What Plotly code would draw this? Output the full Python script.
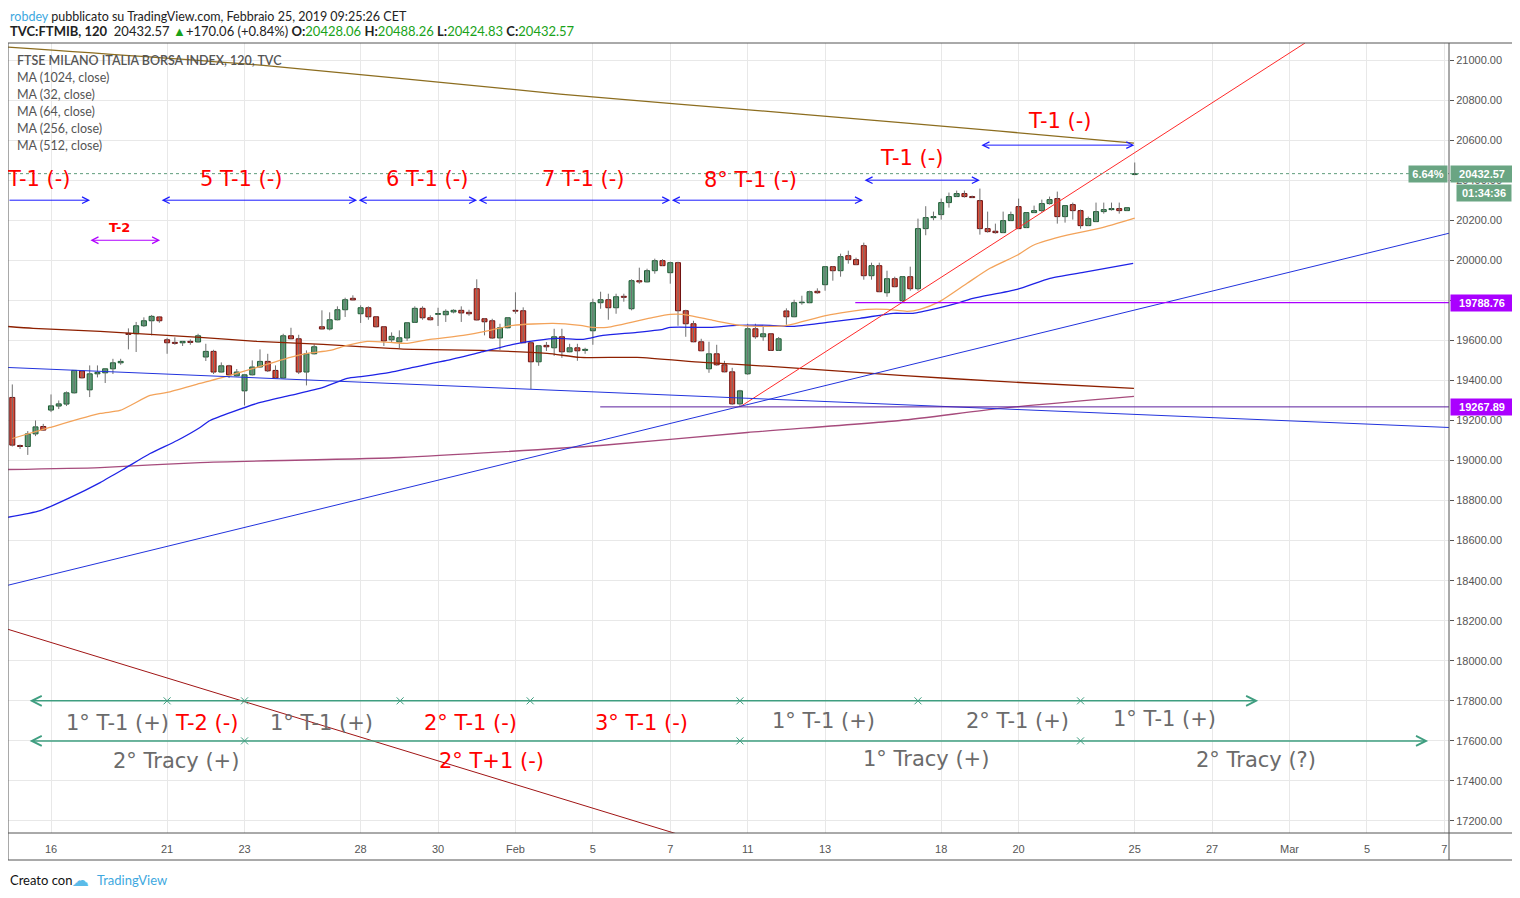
import plotly.graph_objects as go

# 120-minute bars of TVC:FTMIB, 5 per session, first bar = 15 Jan 2019
opens = [19315, 19075, 19070, 19133, 19170, 19252, 19272, 19282, 19338, 19447,
         19353, 19433, 19438, 19458, 19488, 19635, 19633, 19673, 19698, 19717,
         19603, 19590, 19588, 19595, 19592, 19517, 19545, 19442, 19473, 19423,
         19348, 19428, 19467, 19495, 19450, 19412, 19623, 19608, 19442, 19533,
         19668, 19657, 19703, 19753, 19810, 19733, 19763, 19718, 19668, 19603,
         19592, 19612, 19690, 19760, 19713, 19730, 19728, 19742, 19750, 19740,
         19858, 19708, 19698, 19612, 19663, 19750, 19748, 19588, 19493, 19575,
         19563, 19618, 19543, 19563, 19550, 19648, 19788, 19803, 19763, 19820,
         19758, 19898, 19892, 19948, 19998, 19938, 19988, 19748, 19683, 19593,
         19458, 19533, 19478, 19443, 19283, 19433, 19658, 19618, 19633, 19550,
         19747, 19718, 19788, 19788, 19845, 19878, 19968, 19948, 20023, 20003,
         20073, 19923, 19973, 19838, 19908, 19798, 19918, 19858, 20158, 20213,
         20228, 20288, 20318, 20333, 20318, 20298, 20158, 20145, 20138, 20198,
         20268, 20163, 20238, 20248, 20283, 20308, 20218, 20278, 20248, 20173,
         20193, 20243, 20253, 20258, 20248, 20428.06]
highs = [19380, 19080, 19147, 19200, 19183, 19330, 19300, 19345, 19452, 19452,
         19475, 19475, 19460, 19508, 19508, 19660, 19692, 19715, 19727, 19720,
         19613, 19615, 19597, 19605, 19633, 19583, 19553, 19490, 19478, 19457,
         19430, 19500, 19555, 19533, 19475, 19633, 19663, 19628, 19550, 19580,
         19750, 19740, 19770, 19813, 19825, 19775, 19770, 19720, 19670, 19640,
         19650, 19690, 19770, 19770, 19725, 19763, 19755, 19755, 19770, 19753,
         19905, 19710, 19708, 19683, 19715, 19840, 19765, 19590, 19575, 19592,
         19658, 19658, 19583, 19583, 19563, 19808, 19843, 19833, 19833, 19833,
         19905, 19963, 19958, 20008, 20005, 19993, 19993, 19753, 19698, 19608,
         19593, 19578, 19498, 19463, 19353, 19683, 19683, 19673, 19635, 19617,
         19760, 19803, 19823, 19848, 19860, 19970, 19970, 20033, 20048, 20013,
         20088, 19988, 19988, 19948, 19918, 19918, 19968, 20208, 20270, 20243,
         20308, 20338, 20348, 20348, 20323, 20358, 20243, 20183, 20243, 20243,
         20308, 20238, 20273, 20303, 20318, 20343, 20273, 20288, 20253, 20218,
         20288, 20288, 20288, 20288, 20263, 20488.26]
lows = [19070, 19058, 19028, 19122, 19150, 19242, 19257, 19272, 19335, 19410,
        19317, 19415, 19387, 19432, 19478, 19555, 19542, 19667, 19625, 19688,
        19533, 19578, 19572, 19578, 19590, 19497, 19432, 19440, 19412, 19420,
        19275, 19425, 19465, 19442, 19410, 19410, 19606, 19432, 19375, 19530,
        19655, 19650, 19700, 19717, 19800, 19687, 19703, 19665, 19572, 19592,
        19562, 19598, 19688, 19703, 19700, 19672, 19692, 19735, 19692, 19723,
        19700, 19625, 19607, 19553, 19660, 19733, 19586, 19357, 19473, 19547,
        19523, 19513, 19541, 19498, 19533, 19578, 19758, 19703, 19733, 19793,
        19750, 19883, 19890, 19933, 19972, 19883, 19673, 19618, 19591, 19546,
        19438, 19473, 19441, 19278, 19267.89, 19428, 19608, 19598, 19548, 19548,
        19678, 19716, 19778, 19786, 19833, 19848, 19898, 19918, 19983, 19976,
        19903, 19903, 19841, 19818, 19866, 19788.76, 19848, 19848, 20125, 20200,
        20203, 20263, 20316, 20313, 20311, 20128, 20138, 20133, 20136, 20196,
        20156, 20161, 20236, 20238, 20278, 20183, 20188, 20203, 20158, 20171,
        20191, 20233, 20248, 20233, 20246, 20424.83]
closes = [19077, 19070, 19133, 19168, 19152, 19273, 19283, 19338, 19450, 19413,
          19433, 19440, 19458, 19488, 19495, 19630, 19673, 19698, 19720, 19698,
          19588, 19585, 19595, 19590, 19623, 19545, 19442, 19473, 19428, 19442,
          19428, 19467, 19495, 19448, 19412, 19623, 19608, 19442, 19533, 19568,
          19657, 19703, 19753, 19803, 19802, 19763, 19718, 19668, 19597, 19620,
          19613, 19688, 19760, 19713, 19703, 19734, 19745, 19750, 19737, 19733,
          19702, 19693, 19612, 19663, 19713, 19746, 19588, 19493, 19573, 19568,
          19618, 19543, 19563, 19548, 19555, 19788, 19803, 19763, 19818, 19815,
          19898, 19892, 19948, 19998, 19973, 19988, 19748, 19683, 19593, 19548,
          19533, 19478, 19443, 19283, 19348, 19658, 19618, 19633, 19550, 19608,
          19718, 19788, 19791, 19843, 19838, 19968, 19948, 20018, 20003, 19978,
          19923, 19973, 19843, 19908, 19868, 19918, 19858, 20158, 20213, 20218,
          20288, 20318, 20333, 20318, 20313, 20158, 20143, 20138, 20198, 20228,
          20158, 20238, 20248, 20283, 20303, 20218, 20273, 20248, 20173, 20208,
          20243, 20253, 20258, 20248, 20262.51, 20432.57]
BARS_PER_SESSION = 5

# x axis: session index (weekends skipped)
tick_pos = [1, 4, 6, 9, 11, 13, 15, 17, 19, 21, 24, 26, 29, 31, 33, 35, 37]
tick_text = ["16", "21", "23", "28", "30", "Feb", "5", "7", "11", "13", "18", "20",
             "25", "27", "Mar", "5", "7"]

# moving averages (session index, price)
ma1024_x = [-0.16, 6.69, 14.15, 20.35, 25.52, 28.98]
ma1024_y = [21065, 20970, 20830, 20730, 20645, 20585]
ma32_x = [0.0, 0.97, 2.27, 2.78, 3.56, 4.0, 4.85, 5.44, 6.32, 7.18, 7.62, 8.21, 8.65, 9.17,
          9.76, 10.2, 10.79, 11.65, 12.34, 12.94, 13.97, 14.67, 15.0, 15.37, 16.56, 17.0,
          17.33, 18.1, 18.8, 19.58, 20.02, 21.05, 22.09, 22.6, 23.12, 23.45, 23.97, 24.67,
          25.26, 25.96, 26.38, 27.25, 28.11, 29.0]
ma32_y = [19110, 19165, 19235, 19250, 19325, 19340, 19385, 19415, 19465, 19515, 19535, 19550,
          19575, 19595, 19590, 19585, 19605, 19625, 19650, 19675, 19685, 19675, 19665, 19665,
          19715, 19730, 19730, 19700, 19675, 19670, 19675, 19725, 19755, 19755, 19745, 19755,
          19795, 19885, 19960, 20025, 20075, 20125, 20160, 20210]
ma64_x = [-0.16, 0.72, 1.49, 2.27, 2.86, 3.56, 4.26, 4.85, 5.11, 6.32, 7.18, 8.03, 8.65, 9.06,
          9.76, 10.35, 11.23, 12.09, 12.94, 13.56, 14.08, 14.75, 15.26, 16.14, 16.81, 17.0,
          18.03, 18.72, 19.58, 20.17, 21.05, 21.9, 22.76, 23.27, 23.89, 24.49, 24.82, 25.96,
          26.81, 27.67, 28.96]
ma64_y = [18715, 18750, 18815, 18890, 18955, 19035, 19100, 19165, 19200, 19285, 19325, 19365,
          19410, 19420, 19440, 19465, 19500, 19540, 19580, 19600, 19610, 19605, 19625, 19640,
          19655, 19665, 19665, 19675, 19675, 19670, 19690, 19710, 19735, 19735, 19760, 19790,
          19810, 19855, 19910, 19940, 19985]
ma256_x = [-0.16, 0.54, 2.27, 3.56, 4.85, 6.32, 8.03, 9.76, 10.35, 12.09, 13.82, 14.67, 16.14,
           17.85, 19.58, 22.94, 25.52, 28.98]
ma256_y = [19670, 19660, 19645, 19630, 19615, 19595, 19580, 19560, 19555, 19550, 19535, 19515,
           19515, 19490, 19470, 19425, 19395, 19360]
ma512_x = [-0.16, 2.27, 4.85, 10.02, 15.19, 18.99, 22.94, 25.52, 28.98]
ma512_y = [18955, 18965, 18990, 19015, 19075, 19140, 19200, 19260, 19320]

# drawn trend lines: (x0, y0, x1, y1)
red_trend = [18.8, 19267.89, 33.4, 21085]
blue_up_trend = [-0.16, 18375, 37.12, 20135]
blue_down_trend = [-0.16, 19465, 37.12, 19165]
darkred_trend = [-0.16, 18160, 17.18, 17135]
level_hi = [21.78, 19788.76]
level_lo = [15.19, 19267.89]
last_price = 20432.57

# arrows (start, end, price)
blue_arrows = [(3.82, 8.91, 20300), (8.91, 12.01, 20300), (12.01, 17.0, 20300),
               (17.0, 21.98, 20300), (21.98, 25.0, 20400), (25.0, 28.99, 20575)]
green_row1 = [0.41, 4.0, 6.0, 10.02, 13.38, 18.8, 23.4, 27.6, 32.19]
green_row2 = [0.41, 6.0, 18.8, 27.6, 36.58]

# text labels (text, x, price, colour)
red_top = [("5 T-1 (-)", 5.91, 20405), ("6 T-1 (-)", 10.72, 20405), ("7 T-1 (-)", 14.75, 20405),
           ("8° T-1 (-)", 19.06, 20400), ("T-1 (-)", 23.22, 20510), ("T-1 (-)", 27.05, 20695)]
bottom_labels = [("1° T-1 (+)", 2.73, 17690, "#6b6b6b"), ("T-2 (-)", 5.03, 17690, "#ff0000"),
                 ("1° T-1 (+)", 7.98, 17690, "#6b6b6b"), ("2° T-1 (-)", 11.85, 17690, "#ff0000"),
                 ("3° T-1 (-)", 16.25, 17690, "#ff0000"), ("1° T-1 (+)", 20.97, 17700, "#6b6b6b"),
                 ("2° T-1 (+)", 25.96, 17700, "#6b6b6b"), ("1° T-1 (+)", 29.76, 17710, "#6b6b6b"),
                 ("2° Tracy (+)", 4.23, 17500, "#6b6b6b"), ("2° T+1 (-)", 12.37, 17500, "#ff0000"),
                 ("1° Tracy (+)", 23.61, 17510, "#6b6b6b"), ("2° Tracy (?)", 32.14, 17505, "#6b6b6b")]
legend_lines = ["FTSE MILANO ITALIA BORSA INDEX, 120, TVC", "MA (1024, close)", "MA (32, close)",
                "MA (64, close)", "MA (256, close)", "MA (512, close)"]

X_RANGE = [-0.111, 37.12]
Y_RANGE = [17140, 21085]
UP_FILL, UP_LINE = "#5e9f79", "#1d5a33"
DN_FILL, DN_LINE = "#d94c38", "#6e1010"
GREEN_TOOL = "#3f9e80"
DRAW_FONT = "DejaVu Sans"

# the page sits 8px in from the window corner; plot pane is 1441 x 790 px
PANE_W, PANE_H = 1441, 790


def px(x):
    return (x - 8) / PANE_W


def py(y):
    return (833 - y) / PANE_H


bar_x = [i // BARS_PER_SESSION + (i % BARS_PER_SESSION) / BARS_PER_SESSION for i in range(len(opens))]

fig = go.Figure()

# wicks
wx, wy = [], []
for x, h, l in zip(bar_x, highs, lows):
    wx += [x, x, None]
    wy += [l, h, None]
fig.add_trace(go.Scatter(x=wx, y=wy, mode="lines", line=dict(color="#707070", width=1), hoverinfo="skip"))

# bodies
up = [i for i in range(len(opens)) if closes[i] >= opens[i]]
dn = [i for i in range(len(opens)) if closes[i] < opens[i]]
for idx, fill, edge in [(up, UP_FILL, UP_LINE), (dn, DN_FILL, DN_LINE)]:
    fig.add_trace(go.Bar(
        x=[bar_x[i] for i in idx],
        y=[abs(closes[i] - opens[i]) for i in idx],
        base=[min(opens[i], closes[i]) for i in idx],
        width=0.13,
        marker=dict(color=fill, line=dict(color=edge, width=1)),
    ))

# moving averages
for xs, ys, col in [(ma512_x, ma512_y, "#a64b7c"), (ma256_x, ma256_y, "#8e2000"),
                    (ma1024_x, ma1024_y, "#8c6d1f"), (ma64_x, ma64_y, "#1e22e6"),
                    (ma32_x, ma32_y, "#f3a35a")]:
    fig.add_trace(go.Scatter(x=xs, y=ys, mode="lines", line=dict(color=col, width=1.3, shape="spline", smoothing=0.6)))

# trend lines and levels
for seg, col in [(red_trend, "#ff2a2a"), (blue_up_trend, "#2233dd"),
                 (blue_down_trend, "#2233dd"), (darkred_trend, "#a01515")]:
    fig.add_trace(go.Scatter(x=[seg[0], seg[2]], y=[seg[1], seg[3]], mode="lines", line=dict(color=col, width=1)))
fig.add_trace(go.Scatter(x=[level_hi[0], X_RANGE[1]], y=[level_hi[1]] * 2, mode="lines",
                         line=dict(color="#aa00ff", width=1.2)))
fig.add_trace(go.Scatter(x=[level_lo[0], X_RANGE[1]], y=[level_lo[1]] * 2, mode="lines",
                         line=dict(color="#5a1f9e", width=1)))
fig.add_trace(go.Scatter(x=X_RANGE, y=[last_price] * 2, mode="lines",
                         line=dict(color="#5f9c7c", width=1, dash="dot")))

# junction markers on the green time-count rows
for row, price in [(green_row1, 17800), (green_row2, 17600)]:
    fig.add_trace(go.Scatter(x=row[1:-1], y=[price] * (len(row) - 2), mode="markers",
                             marker=dict(symbol="x-thin", size=7, line=dict(color=GREEN_TOOL, width=1))))

ann = []


def arrow(x0, x1, y, color, both=True, width=1):
    ann.append(dict(x=x1, y=y, ax=x0, ay=y, xref="x", yref="y", axref="x", ayref="y", text="",
                    showarrow=True, arrowhead=5, startarrowhead=5, arrowsize=1.3, startarrowsize=1.3,
                    arrowwidth=width, arrowcolor=color, arrowside="end+start" if both else "end",
                    standoff=0, startstandoff=0))


arrow(X_RANGE[0], 2.01, 20300, "#1a1aff", both=False)
for a, b, p in blue_arrows:
    arrow(a, b, p, "#1a1aff")
arrow(1.98, 3.82, 20100, "#b000ff")
arrow(green_row1[0], green_row1[-1], 17800, GREEN_TOOL, width=1.5)
arrow(green_row2[0], green_row2[-1], 17600, GREEN_TOOL, width=1.5)

ann.append(dict(x=X_RANGE[0], y=20405, xref="x", yref="y", xanchor="left", xshift=-3, text="T-1 (-)",
                showarrow=False, font=dict(family=DRAW_FONT, size=21, color="#ff0000")))
for t, x, y in red_top:
    ann.append(dict(x=x, y=y, xref="x", yref="y", text=t, showarrow=False,
                    font=dict(family=DRAW_FONT, size=21, color="#ff0000")))
ann.append(dict(x=2.76, y=20165, xref="x", yref="y", text="<b>T-2</b>", showarrow=False,
                font=dict(family=DRAW_FONT, size=13, color="#ff0000")))
for t, x, y, c in bottom_labels:
    ann.append(dict(x=x, y=y, xref="x", yref="y", text=t, showarrow=False,
                    font=dict(family=DRAW_FONT, size=21, color=c)))

# legend block inside the pane
for k, t in enumerate(legend_lines):
    ann.append(dict(x=px(15), y=py(60 + 17 * k), xref="paper", yref="paper", xanchor="left",
                    yanchor="middle", text=t, showarrow=False,
                    font=dict(family="Lato", size=12.5, color="#555555", weight=600 if k == 0 else 400)))

# header lines
ann.append(dict(x=0, y=py(16), xref="paper", yref="paper", xanchor="left", yanchor="middle",
                showarrow=False, font=dict(family="Lato", size=12.5, color="#222222"),
                text="<span style='color:#3ea8e0'>robdey</span> pubblicato su TradingView.com, Febbraio 25, 2019 09:25:26 CET"))
g = "#19a219"
ann.append(dict(x=0, y=py(31), xref="paper", yref="paper", xanchor="left", yanchor="middle",
                showarrow=False, font=dict(family="Lato", size=13, color="#222222"),
                text=f"<b>TVC:FTMIB, 120</b>  20432.57 <span style='color:{g}'>▲</span>+170.06 (+0.84%) "
                     f"<b>O:</b><span style='color:{g}'>20428.06</span> <b>H:</b><span style='color:{g}'>20488.26</span> "
                     f"<b>L:</b><span style='color:{g}'>20424.83</span> <b>C:</b><span style='color:{g}'>20432.57</span>"))
ann.append(dict(x=0, y=py(880), xref="paper", yref="paper", xanchor="left", yanchor="middle",
                showarrow=False, font=dict(family="Lato", size=13, color="#111111"),
                text="Creato con"))
ann.append(dict(x=px(70), y=py(880), xref="paper", yref="paper", xanchor="left", yanchor="middle",
                showarrow=False, font=dict(family="DejaVu Sans", size=17, color="#5bbbe8"),
                text="☁"))
ann.append(dict(x=px(95), y=py(880), xref="paper", yref="paper", xanchor="left",
                yanchor="middle", showarrow=False, font=dict(family="Lato", size=13, color="#3ea8e0"),
                text="TradingView"))

# price-scale labels
lab_font = dict(family="Liberation Sans", size=11, color="white", weight="bold")
for txt, y, col, ysh in [(f"{last_price:.2f}", last_price, "#6aa583", 0),
                         ("01:34:36", last_price, "#6aa583", -19),
                         (f"{level_hi[1]:.2f}", level_hi[1], "#aa00ff", 0),
                         (f"{level_lo[1]:.2f}", level_lo[1], "#aa00ff", 0)]:
    ann.append(dict(x=1, y=y, xref="paper", yref="y", xanchor="left", yanchor="middle", xshift=7 if ysh else 1,
                    yshift=ysh, text=txt, showarrow=False, bgcolor=col, font=lab_font,
                    width=52 if ysh else 60, height=14, borderpad=1))
ann.append(dict(x=1, y=last_price, xref="paper", yref="y", xanchor="right", yanchor="middle", xshift=-1,
                text="6.64%", showarrow=False, bgcolor="#6aa583", font=lab_font, width=36, height=14,
                borderpad=1))

frame_bottom = py(860)
frame_right = px(1513)
shapes = [
    dict(type="rect", xref="paper", yref="paper", x0=0, x1=frame_right, y0=frame_bottom, y1=1,
         line=dict(color="#555555", width=1), layer="above"),
    dict(type="line", xref="paper", yref="paper", x0=1, x1=1, y0=frame_bottom, y1=1,
         line=dict(color="#555555", width=1)),
    dict(type="line", xref="paper", yref="paper", x0=0, x1=frame_right, y0=0, y1=0,
         line=dict(color="#555555", width=1)),
]

fig.update_layout(
    width=1512, height=890,
    margin=dict(l=0, r=71, t=35, b=65),
    paper_bgcolor="white", plot_bgcolor="white",
    showlegend=False, barmode="overlay",
    annotations=ann, shapes=shapes,
    xaxis=dict(range=X_RANGE, tickvals=tick_pos, ticktext=tick_text, showgrid=True, gridcolor="#e8e8e8",
               zeroline=False, ticks="outside", ticklen=6, tickcolor="rgba(0,0,0,0)",
               tickfont=dict(family="Liberation Sans", size=11, color="#555555")),
    yaxis=dict(side="right", range=Y_RANGE, tick0=17200, dtick=200, tickformat=".2f", showgrid=True,
               gridcolor="#e8e8e8", zeroline=False, ticks="outside", ticklen=4, tickcolor="#555555",
               tickfont=dict(family="Liberation Sans", size=11, color="#555555")),
)

fig.write_html("out.html")
